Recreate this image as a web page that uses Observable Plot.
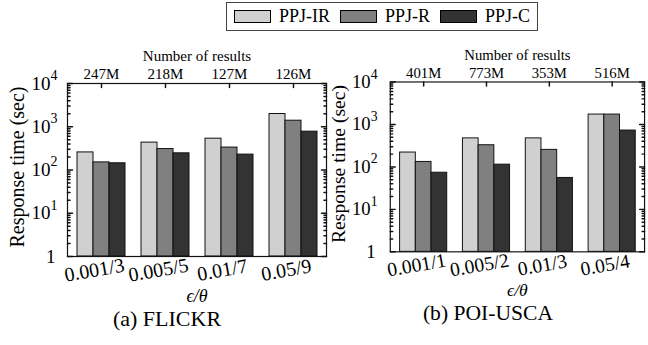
<!DOCTYPE html>
<html><head><meta charset="utf-8">
<script src="https://cdn.jsdelivr.net/npm/d3@7"></script>
<script src="https://cdn.jsdelivr.net/npm/@observablehq/plot@0.6"></script>
<style>
html,body{margin:0;padding:0;background:#fff;overflow:hidden;}
#wrap{position:relative;width:648px;height:345px;overflow:hidden;font-family:"Liberation Serif","Times New Roman",serif;}
.panel{position:absolute;top:0;}
#legend{position:absolute;left:226px;top:2px;width:312px;height:29px;border:1px solid #444;box-sizing:border-box;display:flex;align-items:center;padding-left:7px;font-size:18px;color:#000;white-space:nowrap;}
.sw{width:37px;height:13px;border:1px solid #000;box-sizing:border-box;margin-right:8px;flex:none;}
.lab{margin-right:10px;flex:none;white-space:nowrap;}
</style></head><body>
<div id="wrap">
  <div class="panel" id="p1" style="left:0px"></div>
  <div class="panel" id="p2" style="left:324px"></div>
  <div id="legend"></div>
</div>
<script>
const series = ["PPJ-IR", "PPJ-R", "PPJ-C"];
const colors = ["#d0d0d0", "#808080", "#333333"];

const flickrGroups = ["0.001/3", "0.005/5", "0.01/7", "0.05/9"];
const flickrResults = ["247M", "218M", "127M", "126M"];
const flickrIR = [255, 430, 530, 1970];
const flickrR = [150, 305, 330, 1380];
const flickrC = [143, 243, 227, 770];

const poiGroups = ["0.001/1", "0.005/2", "0.01/3", "0.05/4"];
const poiResults = ["401M", "773M", "353M", "516M"];
const poiIR = [218, 470, 470, 1710];
const poiR = [131, 324, 252, 1710];
const poiC = [73, 113, 55, 719];

const yTicks = [1, 10, 100, 1000, 10000];
const yTickBase = ["1", "10", "10", "10", "10"];
const yTickExp = ["", "1", "2", "3", "4"];
const yMinor = [2,3,4,5,6,7,8,9,20,30,40,50,60,70,80,90,200,300,400,500,600,700,800,900,2000,3000,4000,5000,6000,7000,8000,9000];

const FONT = "'Liberation Serif', 'Times New Roman', serif";
const tickShape = {draw(ctx, l) { ctx.moveTo(0, 0); ctx.lineTo(0, -l); }};

function panel(groups, results, vals, caption, labShift) {
  const rows = [];
  groups.forEach((g, i) => series.forEach((s, j) => rows.push({group: g, series: s, key: g + "|" + s, value: vals[j][i]})));
  const domain = [];
  groups.forEach((g, i) => { series.forEach(s => domain.push(g + "|" + s)); if (i < groups.length - 1) domain.push(g + "|gap"); });
  const centers = groups.map(g => g + "|PPJ-R");
  const ld = -17 + labShift;
  return Plot.plot({
    width: 330, height: 345, marginLeft: 67, marginRight: 4, marginTop: 83, marginBottom: 89,
    style: {background: "transparent", fontFamily: FONT, overflow: "visible", color: "#000"},
    x: {type: "band", domain, padding: 0, paddingOuter: 0.5, axis: null},
    y: {type: "log", domain: [1, 10000], axis: null},
    color: {domain: series, range: colors},
    marks: [
      Plot.barY(rows, {x: "key", y1: 1, y2: "value", fill: "series", stroke: "#111", strokeWidth: 1}),
      Plot.frame({stroke: "#111", strokeWidth: 1.2}),
      Plot.vector(yTicks, {y: d => d, frameAnchor: "left", rotate: 90, length: 5, anchor: "start", shape: tickShape, stroke: "#111"}),
      Plot.vector(yTicks, {y: d => d, frameAnchor: "right", rotate: -90, length: 5, anchor: "start", shape: tickShape, stroke: "#111"}),
      Plot.vector(yMinor, {y: d => d, frameAnchor: "left", rotate: 90, length: 2.5, anchor: "start", shape: tickShape, stroke: "#111"}),
      Plot.vector(yMinor, {y: d => d, frameAnchor: "right", rotate: -90, length: 2.5, anchor: "start", shape: tickShape, stroke: "#111"}),
      Plot.vector(centers, {x: d => d, frameAnchor: "top", rotate: 180, length: 4, anchor: "start", shape: tickShape, stroke: "#111"}),
      Plot.text(yTicks, {y: d => d, frameAnchor: "left", textAnchor: "end", dx: ld, text: (d, i) => yTickExp[i] === "" ? "" : yTickBase[i], fontSize: 19, fontFamily: FONT}),
      Plot.text(yTicks, {y: d => d, frameAnchor: "left", textAnchor: "end", dx: ld + 5, text: (d, i) => yTickExp[i] === "" ? yTickBase[i] : "", fontSize: 19, fontFamily: FONT}),
      Plot.text(yTicks, {y: d => d, frameAnchor: "left", textAnchor: "start", dx: ld, dy: -8, text: (d, i) => yTickExp[i], fontSize: 14, fontFamily: FONT}),
      Plot.text(centers, {x: d => d, frameAnchor: "top", textAnchor: "middle", dy: -15, text: (d, i) => results[i], fontSize: 15, fontFamily: FONT}),
      Plot.text(["Number of results"], {frameAnchor: "top", textAnchor: "middle", dy: -33, fontSize: 15, fontFamily: FONT}),
      Plot.text(centers, {x: d => d, frameAnchor: "bottom", textAnchor: "middle", dx: -6, dy: 20, rotate: -10, text: (d, i) => groups[i], fontSize: 20, fontFamily: FONT}),
      Plot.text(["\u03F5/\u03B8"], {frameAnchor: "bottom", textAnchor: "middle", dy: 45, fontSize: 18, fontStyle: "italic", fontFamily: FONT}),
      Plot.text(["Response time (sec)"], {frameAnchor: "left", textAnchor: "middle", dx: -50 + labShift, dy: -3, rotate: -90, fontSize: 20, fontFamily: FONT}),
      Plot.text([caption], {frameAnchor: "bottom", textAnchor: "middle", dx: -30, dy: 69, fontSize: 22, fontFamily: FONT})
    ]
  });
}

document.getElementById("p1").appendChild(panel(flickrGroups, flickrResults, [flickrIR, flickrR, flickrC], "(a) FLICKR", 0));
document.getElementById("p2").appendChild(panel(poiGroups, poiResults, [poiIR, poiR, poiC], "(b) POI-USCA", -3));

const legend = document.getElementById("legend");
series.forEach((s, i) => {
  const sw = document.createElement("div");
  sw.className = "sw"; sw.style.background = colors[i];
  const lab = document.createElement("span");
  lab.className = "lab"; lab.textContent = s;
  legend.appendChild(sw); legend.appendChild(lab);
});
</script>
</body></html>
